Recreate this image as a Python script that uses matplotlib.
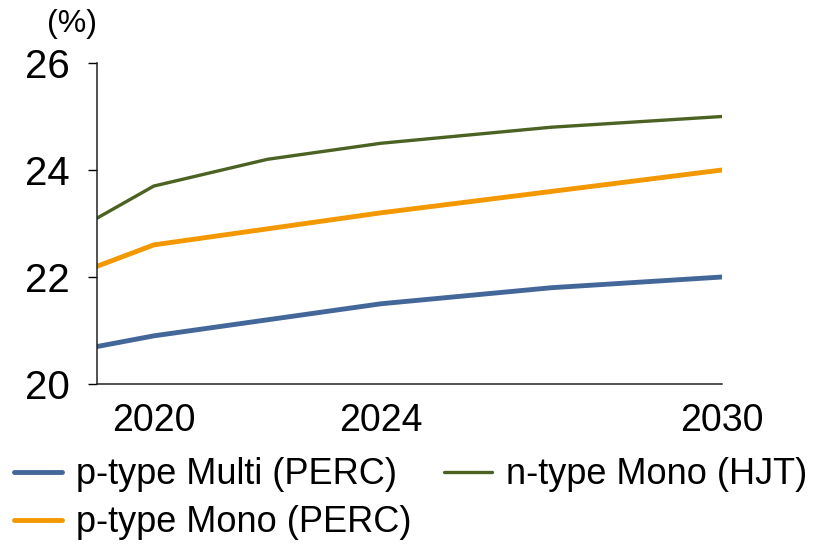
import matplotlib
matplotlib.use("Agg")
import matplotlib.pyplot as plt

plt.rcParams['font.family'] = ['Liberation Sans', 'DejaVu Sans']

years = [2019, 2020, 2022, 2024, 2027, 2030]
multi_perc = [20.7, 20.9, 21.2, 21.5, 21.8, 22.0]
mono_perc = [22.2, 22.6, 22.9, 23.2, 23.6, 24.0]
mono_hjt = [23.1, 23.7, 24.2, 24.5, 24.8, 25.0]

xticks = [2020, 2024, 2030]
yticks = [20, 22, 24, 26]

fig = plt.figure(figsize=(8.17, 5.5), dpi=100)
ax = fig.add_axes([97 / 817, 1 - 384 / 550, (722 - 97) / 817, (384 - 63) / 550])

l1, = ax.plot(years, multi_perc, color='#44679a', lw=3.5, solid_capstyle='round',
              label='p-type Multi (PERC)')
l2, = ax.plot(years, mono_perc, color='#f39800', lw=3.5, solid_capstyle='round',
              label='p-type Mono (PERC)')
l3, = ax.plot(years, mono_hjt, color='#4b6222', lw=2.4, solid_capstyle='round',
              label='n-type Mono (HJT)')

ax.set_xlim(2019, 2030)
ax.set_ylim(20, 26)
ax.set_xticks(xticks)
ax.set_yticks(yticks)
ax.tick_params(axis='x', length=0, pad=14, labelsize=27)
ax.tick_params(axis='y', length=6.5, width=1, direction='out', pad=13, labelsize=29)

for s in ['top', 'right']:
    ax.spines[s].set_visible(False)
for s in ['left', 'bottom']:
    ax.spines[s].set_linewidth(1.1)
    ax.spines[s].set_color('#222222')

fig.text(72 / 817, 1 - 24 / 550, '(%)', fontsize=23, ha='center', va='center')

fig.legend(handles=[l1, l2, l3], ncol=2, loc='upper left',
           bbox_to_anchor=(0.0, 1 - 443 / 550), frameon=False, fontsize=26,
           handlelength=1.33, handletextpad=0.38, columnspacing=0.9,
           labelspacing=0.36, borderaxespad=0)

fig.savefig('out.png', dpi=100)
